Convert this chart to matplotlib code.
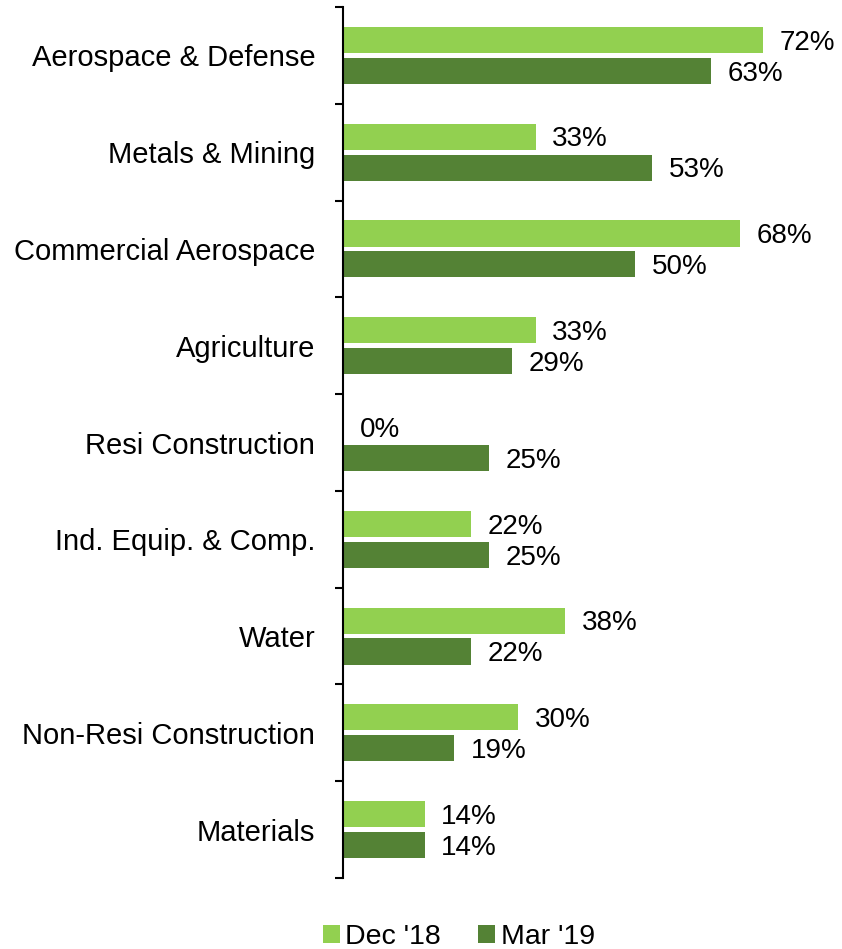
import matplotlib.pyplot as plt
import numpy as np

plt.rcParams['font.family'] = ['Liberation Sans', 'DejaVu Sans']

categories = ["Aerospace & Defense", "Metals & Mining", "Commercial Aerospace",
              "Agriculture", "Resi Construction", "Ind. Equip. & Comp.",
              "Water", "Non-Resi Construction", "Materials"]
dec18 = [72, 33, 68, 33, 0, 22, 38, 30, 14]
mar19 = [63, 53, 50, 29, 25, 25, 22, 19, 14]

light = "#92D050"
dark = "#548235"

fig = plt.figure(figsize=(8.42, 9.49), dpi=100)
ax = fig.add_axes([343/842, 71/949, 496/842, 871/949])

y = np.arange(len(categories))
h = 0.27
b1 = ax.barh(y - 0.16, dec18, height=h, color=light, label="Dec '18")
b2 = ax.barh(y + 0.16, mar19, height=h, color=dark, label="Mar '19")

# value labels just right of each bar end
for bars, vals in [(b1, dec18), (b2, mar19)]:
    for bar, v in zip(bars, vals):
        ax.annotate(f"{v}%", (bar.get_width(), bar.get_y() + bar.get_height() / 2),
                    xytext=(12, -2), textcoords="offset points",
                    ha="left", va="center", fontsize=20)

ax.set_xlim(0, 85)
ax.set_ylim(len(categories) - 0.5, -0.5)
ax.set_xticks([])
ax.set_yticks(y)
ax.set_yticklabels(categories, fontsize=21)
ax.tick_params(axis='y', which='major', length=0, pad=20)
ax.set_yticks(np.arange(-0.5, len(categories)), minor=True)
ax.tick_params(axis='y', which='minor', length=6, width=1.5)
for s in ["top", "right", "bottom"]:
    ax.spines[s].set_visible(False)
ax.spines["left"].set_linewidth(1.5)

fig.legend(handles=[b1, b2], loc="center", bbox_to_anchor=(0.545, 0.013),
           ncol=2, frameon=False, fontsize=20.5, handlelength=0.6, handleheight=0.6,
           handletextpad=0.2, columnspacing=1.3)

fig.savefig("out.png", dpi=100)
